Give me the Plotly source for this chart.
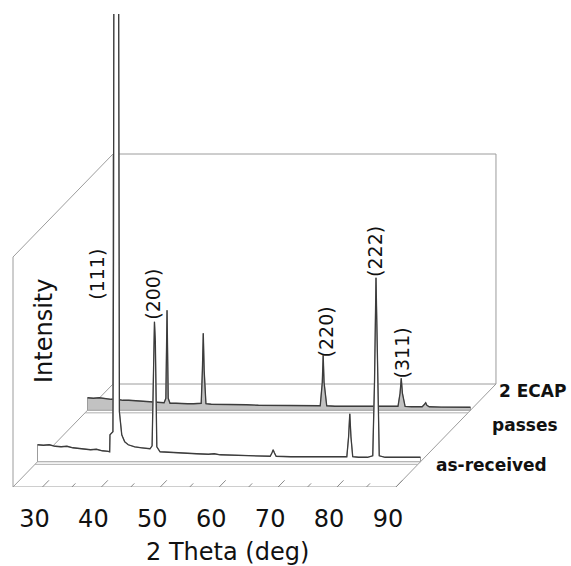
import plotly.graph_objects as go

# ---------------- data ----------------
TICKS_MAJOR = [30, 40, 50, 60, 70, 80, 90]
TICKS_MINOR = [35, 45, 55, 65, 75, 85]
TICK_LABELS = ["30", "40", "50", "60", "70", "80", "90"]

# as-received pattern: 2-theta (deg) and intensity (a.u.)
AR_THETA = [25.0, 26.0, 27.0, 28.0, 29.0, 30.0, 31.0, 32.0, 33.0, 34.0, 35.0, 36.0, 37.0,
            37.25, 37.3, 37.8, 37.9, 38.0, 38.7, 38.8, 38.9, 39.3, 39.8, 40.4, 41.5, 42.7,
            44.1, 44.45, 44.7, 44.85, 45.0, 45.25, 45.8, 47.0, 48.0, 50.0, 52.0, 54.0, 55.0,
            56.0, 58.0, 60.0, 62.0, 64.5, 64.8, 65.0, 65.2, 65.5, 68.0, 70.0, 72.0, 74.0,
            76.0, 77.5, 77.8, 78.0, 78.2, 78.5, 79.5, 81.0, 81.9, 82.2, 82.45, 82.7, 83.0,
            84.0, 86.0, 88.0, 90.0]
AR_INT = [17.0, 16.5, 17.0, 15.5, 15.0, 15.5, 14.0, 13.5, 13.0, 12.0, 12.5, 11.0, 10.5,
          10.0, 27.0, 30.0, 200.0, 700.0, 700.0, 200.0, 50.0, 27.0, 20.0, 17.0, 15.0, 14.0,
          13.0, 16.0, 120.0, 140.0, 120.0, 15.0, 10.0, 9.5, 9.0, 8.5, 8.0, 7.5, 8.0,
          7.0, 6.5, 6.0, 5.5, 5.5, 9.0, 12.0, 9.0, 5.5, 5.0, 5.0, 4.8, 4.6,
          4.5, 5.0, 25.0, 48.0, 25.0, 5.0, 4.5, 4.5, 6.0, 80.0, 184.0, 80.0, 6.0,
          4.5, 4.5, 4.3, 4.5]

# 2 ECAP passes pattern
EC_THETA = [25.0, 26.0, 27.0, 28.0, 29.0, 30.0, 31.0, 32.0, 33.0, 34.0, 35.0, 36.0, 37.0,
            38.0, 38.3, 38.5, 38.7, 39.0, 40.0, 41.0, 42.0, 43.0, 44.3, 44.5, 44.65, 44.8,
            45.1, 46.0, 48.0, 50.0, 52.0, 54.0, 56.0, 58.0, 60.0, 62.0, 64.5, 64.85, 65.0,
            65.15, 65.6, 67.0, 70.0, 72.0, 74.0, 76.0, 77.7, 78.05, 78.25, 78.45, 78.9, 80.0,
            81.8, 82.2, 82.4, 82.6, 83.0, 85.0, 87.0, 90.0]
EC_INT = [12.5, 12.0, 12.5, 11.5, 11.0, 11.0, 10.0, 10.0, 9.5, 9.0, 8.5, 8.5, 8.0,
          7.5, 12.0, 100.0, 12.0, 7.0, 7.0, 6.5, 6.5, 6.5, 7.0, 40.0, 77.0, 40.0,
          6.5, 6.0, 6.0, 5.5, 5.5, 5.0, 5.0, 4.8, 4.5, 4.5, 4.5, 28.0, 55.0,
          28.0, 4.5, 4.0, 4.0, 4.0, 3.8, 3.5, 4.0, 17.0, 32.0, 17.0, 3.8, 3.5,
          3.5, 6.0, 7.5, 5.0, 3.5, 3.2, 3.0, 3.0]

SERIES_NAMES = ["as-received", "2 ECAP passes"]

# peak labels: text, series index, 2-theta and height of label centre
PEAK_TEXT = ["(111)", "(200)", "(222)", "(220)", "(311)"]
PEAK_SERIES = [0, 0, 0, 1, 1]
PEAK_THETA = [35.1, 44.6, 82.3, 65.5, 78.4]
PEAK_HEIGHT = [187, 168, 210, 78, 57]

# ---------------- oblique 3-D geometry ----------------
THETA_MIN, THETA_MAX = 25.0, 90.0
WALL_HEIGHT = 230.0
PX_PER_DEG = 5.892
DEPTH_X = 100.0 / PX_PER_DEG   # depth direction, in degrees
DEPTH_Y = 103.0                 # depth direction, in intensity units
SERIES_DEPTH = [0.245, 0.745]
LABEL_DEPTH = -0.08

W, H = 571, 566
M_L, M_R, M_T, M_B = 0, 0, 14, 79
X_LO = THETA_MIN - 13 / PX_PER_DEG
X_HI = X_LO + (W - M_L - M_R) / PX_PER_DEG
Y_LO, Y_HI = 0.0, float(H - M_T - M_B)


def proj(theta, inten, depth):
    return theta + depth * DEPTH_X, inten + depth * DEPTH_Y


BOX = "#9c9c9c"
CURVE = "#3c3c3c"
TXT = "#111111"
FONT = "DejaVu Sans"

shapes = []


def seg(p, q, color=BOX, width=1):
    shapes.append(dict(type="line", xref="x", yref="y", x0=p[0], y0=p[1], x1=q[0], y1=q[1],
                       line=dict(color=color, width=width), layer="below"))


# frame
seg(proj(THETA_MIN, 0, 0), proj(THETA_MAX, 0, 0))
seg(proj(THETA_MIN, 0, 0), proj(THETA_MIN, WALL_HEIGHT, 0))
seg(proj(THETA_MIN, 0, 0), proj(THETA_MIN, 0, 1))
seg(proj(THETA_MIN, WALL_HEIGHT, 0), proj(THETA_MIN, WALL_HEIGHT, 1))
seg(proj(THETA_MAX, 0, 0), proj(THETA_MAX, 0, 1))
seg(proj(THETA_MIN, 0, 1), proj(THETA_MAX, 0, 1))
seg(proj(THETA_MAX, 0, 1), proj(THETA_MAX, WALL_HEIGHT, 1))
seg(proj(THETA_MAX, WALL_HEIGHT, 1), proj(THETA_MIN, WALL_HEIGHT, 1))
seg(proj(THETA_MIN, WALL_HEIGHT, 1), proj(THETA_MIN, 0, 1))

# ticks on front edge, pointing into the depth
for t in TICKS_MAJOR:
    seg(proj(t, 0, 0), proj(t, 0, 0.065), color="#8a8a8a")
for t in TICKS_MINOR:
    seg(proj(t, 0, 0), proj(t, 0, 0.035), color="#8a8a8a")

fig = go.Figure()

fills = ["#c2c2c2", "#ffffff"]
series = [(EC_THETA, EC_INT, SERIES_DEPTH[1], fills[0], SERIES_NAMES[1]),
          (AR_THETA, AR_INT, SERIES_DEPTH[0], fills[1], SERIES_NAMES[0])]

for th, it, d, fc, name in series:
    pts = [proj(a, b, d) for a, b in zip(th, it)]
    fx = [p[0] for p in pts] + [proj(th[-1], 0, d)[0], proj(th[0], 0, d)[0], pts[0][0]]
    fy = [p[1] for p in pts] + [proj(th[-1], 0, d)[1], proj(th[0], 0, d)[1], pts[0][1]]
    fig.add_trace(go.Scatter(x=fx, y=fy, mode="lines", fill="toself", fillcolor=fc,
                             line=dict(color=BOX, width=1), hoverinfo="skip",
                             showlegend=False))
    # front edge of the ribbon floor
    f0 = proj(th[0], 0, d - 0.025)
    f1 = proj(th[-1], 0, d - 0.025)
    fig.add_trace(go.Scatter(x=[f0[0], f1[0]], y=[f0[1], f1[1]], mode="lines",
                             line=dict(color="#b0b0b0", width=1), hoverinfo="skip",
                             showlegend=False))
    fig.add_trace(go.Scatter(x=[p[0] for p in pts], y=[p[1] for p in pts], mode="lines",
                             line=dict(color=CURVE, width=1.3), name=name,
                             showlegend=False))

annotations = []
for txt, si, th, hh in zip(PEAK_TEXT, PEAK_SERIES, PEAK_THETA, PEAK_HEIGHT):
    x, y = proj(th, hh, SERIES_DEPTH[si])
    annotations.append(dict(x=x, y=y, xref="x", yref="y", text=txt, textangle=-90,
                            showarrow=False, xanchor="center", yanchor="middle",
                            font=dict(family=FONT, size=19, color=TXT)))


def px_to_paper(px, py):
    return (px - M_L) / (W - M_L - M_R), (H - M_B - py) / (H - M_T - M_B)


def paper_note(text, px, py, size, bold=False, angle=0):
    x, y = px_to_paper(px, py)
    annotations.append(dict(x=x, y=y, xref="paper", yref="paper",
                            text=f"<b>{text}</b>" if bold else text, textangle=angle,
                            showarrow=False, xanchor="center", yanchor="middle",
                            font=dict(family=FONT, size=size, color=TXT)))


paper_note("Intensity", 44, 331, 24, angle=-90)
paper_note("2 Theta (deg)", 228, 552, 24)
paper_note("2 ECAP", 532, 391, 17, bold=True)
paper_note("passes", 525, 425, 17, bold=True)
paper_note("as-received", 491, 465, 17, bold=True)

fig.update_layout(
    width=W, height=H,
    margin=dict(l=M_L, r=M_R, t=M_T, b=M_B, autoexpand=False),
    paper_bgcolor="white", plot_bgcolor="white",
    shapes=shapes, annotations=annotations,
    xaxis=dict(range=[X_LO, X_HI], showgrid=False, zeroline=False, showline=False,
               ticks="", tickvals=[t + LABEL_DEPTH * DEPTH_X for t in TICKS_MAJOR],
               ticktext=TICK_LABELS, tickfont=dict(family=FONT, size=24, color=TXT),
               ticklabelstandoff=15, fixedrange=True),
    yaxis=dict(range=[Y_LO, Y_HI], visible=False, fixedrange=True),
    showlegend=False,
)

fig.write_html("out.html", config={"displayModeBar": False},
               post_script="document.body.style.margin='0px';")
